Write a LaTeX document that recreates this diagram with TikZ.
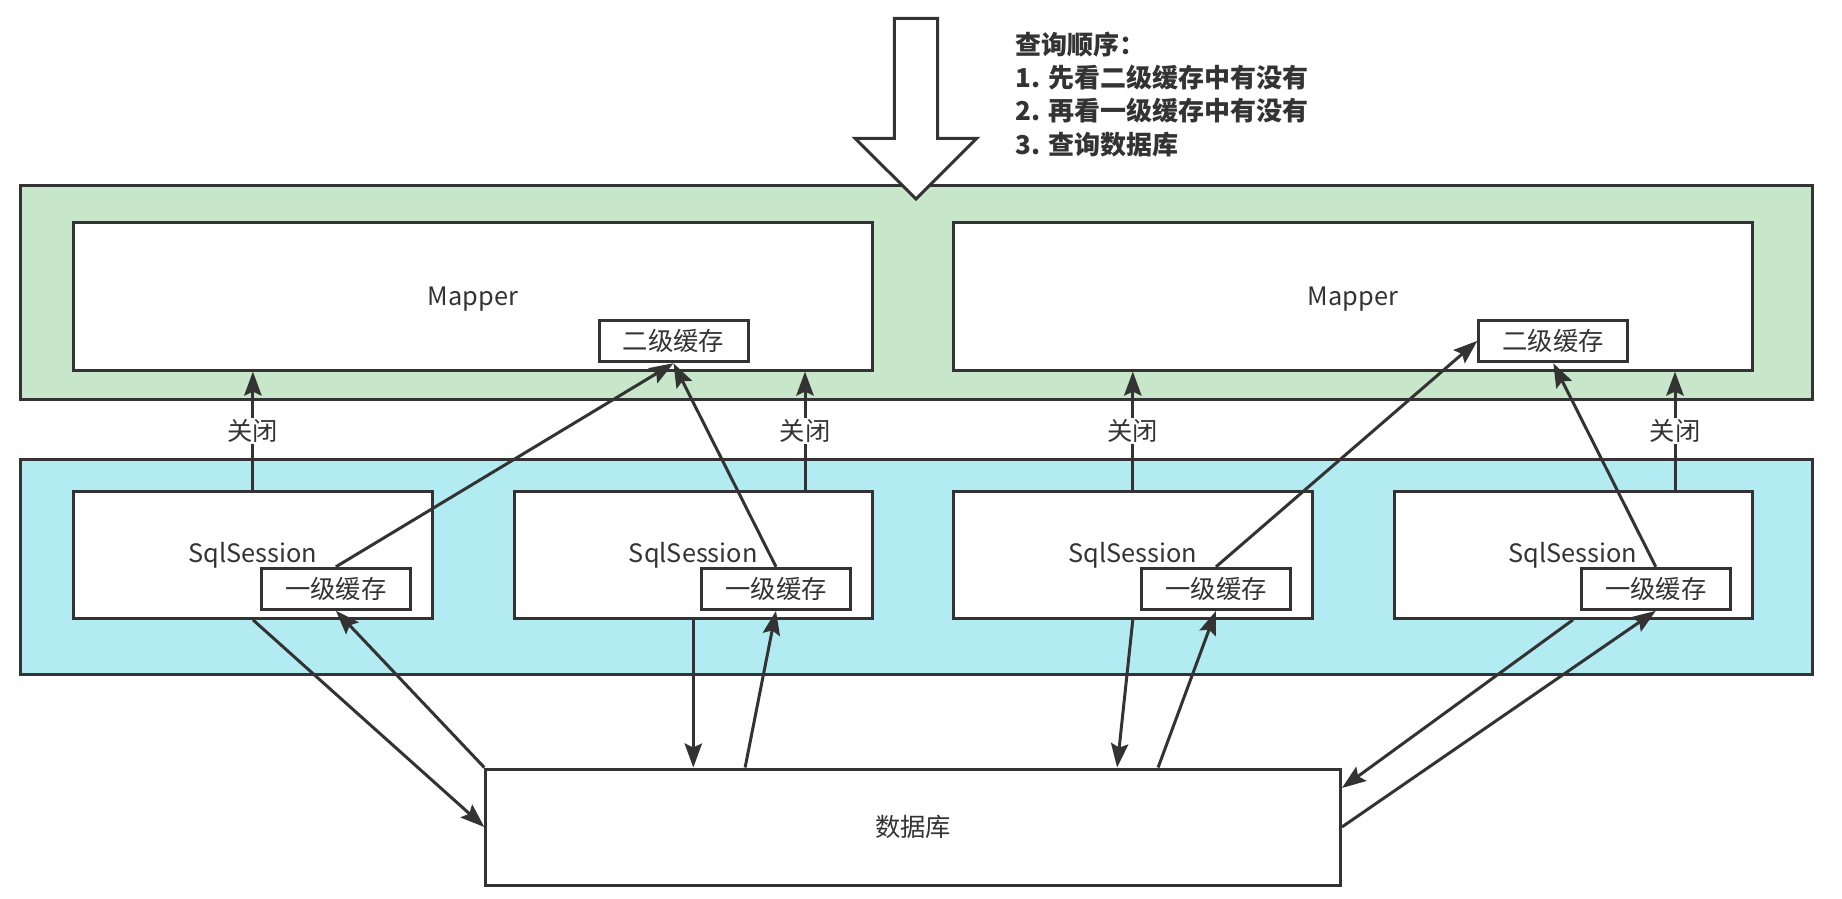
\documentclass[tikz,border=0pt]{standalone}
\usepackage{fontspec}
\setmainfont{Noto Sans CJK SC}
\usetikzlibrary{arrows.meta,calc}
\newdimen\pxu
\pxu=0.75pt
\definecolor{ink}{HTML}{333333}
\definecolor{greenbg}{HTML}{C8E6C9}
\definecolor{bluebg}{HTML}{B2EBF2}
\tikzset{
  box/.style={draw=ink, line width=3\pxu, fill=white, inner sep=0pt, text=ink,
    font=\fontsize{19pt}{23pt}\selectfont},
  band/.style={draw=ink, line width=3\pxu, inner sep=0pt},
  conn/.style={draw=ink, line width=3\pxu, -{Stealth[length=18pt, width=13pt, inset=3pt]}},
  lab/.style={fill=white, text=ink, inner sep=1pt, font=\fontsize{19pt}{23pt}\selectfont},
  inlab/.style={text=ink, inner sep=0pt, font=\fontsize{19pt}{23pt}\selectfont},
  note/.style={text=ink, inner sep=0pt, anchor=base west, font=\fontsize{19.5pt}{24pt}\selectfont\bfseries}
}
\begin{document}
\begin{tikzpicture}[x=0.75pt, y=-0.75pt]
\useasboundingbox (0,0) rectangle (1842,899);
% bands
\node[band, fill=greenbg, minimum width=1792\pxu, minimum height=214\pxu] (green) at (916.5,292) {};
\node[band, fill=bluebg, minimum width=1792\pxu, minimum height=214.7\pxu] (blue) at (916.5,566.7) {};
% big arrow
\draw[ink, fill=white, line width=3\pxu, line join=miter]
  (894.3,18.3) -- (937.7,18.3) -- (937.7,138.3) -- (976.7,138.3) -- (916,199)
  -- (855,138.3) -- (894.3,138.3) -- cycle;
% note
\node[note] (t1) at (1015,55) {查询顺序：};
\node[note] (t2) at (1015,88) {1. 先看二级缓存中有没有};
\node[note] (t3) at (1015,121) {2. 再看一级缓存中有没有};
\node[note] (t4) at (1015,154) {3. 查询数据库};
% mappers
\node[box, minimum width=799\pxu, minimum height=147.3\pxu,
  label={[inlab, yshift=-3\pxu]center:Mapper}] (mapperL) at (473,296.4) {};
\node[box, minimum width=798.5\pxu, minimum height=147.3\pxu,
  label={[inlab, yshift=-3\pxu]center:Mapper}] (mapperR) at (1352.8,296.4) {};
\node[box, minimum width=149\pxu, minimum height=41.7\pxu] (cacheL) at (673.5,340.9) {二级缓存};
\node[box, minimum width=149\pxu, minimum height=41.7\pxu] (cacheR) at (1553.3,340.9) {二级缓存};
% sessions
\node[box, minimum width=359\pxu, minimum height=126.6\pxu] (s1) at (252.9,555) {SqlSession};
\node[box, minimum width=358.5\pxu, minimum height=126.6\pxu] (s2) at (693.3,555) {SqlSession};
\node[box, minimum width=358.5\pxu, minimum height=126.6\pxu] (s3) at (1132.8,555) {SqlSession};
\node[box, minimum width=358\pxu, minimum height=126.6\pxu] (s4) at (1573,555) {SqlSession};
\node[box, minimum width=148.5\pxu, minimum height=41\pxu] (c1) at (335.9,588.8) {一级缓存};
\node[box, minimum width=148.5\pxu, minimum height=41\pxu] (c2) at (776,588.8) {一级缓存};
\node[box, minimum width=148.5\pxu, minimum height=41\pxu] (c3) at (1216,588.8) {一级缓存};
\node[box, minimum width=148.5\pxu, minimum height=41\pxu] (c4) at (1655.8,588.8) {一级缓存};
% database
\node[box, minimum width=854.6\pxu, minimum height=116\pxu] (db) at (913.1,827) {数据库};
% close arrows
\draw[conn] (s1.north) -- (s1.north |- mapperL.south) node[lab, midway] {关闭};
\draw[conn] ([xshift=111.7\pxu]s2.north) -- ([xshift=111.7\pxu]s2.north |- mapperL.south) node[lab, midway] {关闭};
\draw[conn] (s3.north) -- (s3.north |- mapperR.south) node[lab, midway] {关闭};
\draw[conn] ([xshift=102\pxu]s4.north) -- ([xshift=102\pxu]s4.north |- mapperR.south) node[lab, midway] {关闭};
% left group
\draw[conn] (c1.north) -- (cacheL.south);
\draw[conn] (c2.north) -- (cacheL.south);
\draw[conn] (s1.south) -- (db.west);
\draw[conn] (db.north west) -- (c1.south);
\draw[conn] (s2.south) -- (s2.south |- db.north);
\draw[conn] ([xshift=-168\pxu]db.north) -- (c2.south);
% right group
\draw[conn] (c3.north) -- (cacheR.west);
\draw[conn] (c4.north) -- (cacheR.south);
\draw[conn] (s3.south) -- ([xshift=204\pxu]db.north);
\draw[conn] ([xshift=245\pxu]db.north) -- (c3.south);
\draw[conn] (s4.south) -- ([yshift=39\pxu]db.east);
\draw[conn] (db.east) -- (c4.south);
\end{tikzpicture}
\end{document}
